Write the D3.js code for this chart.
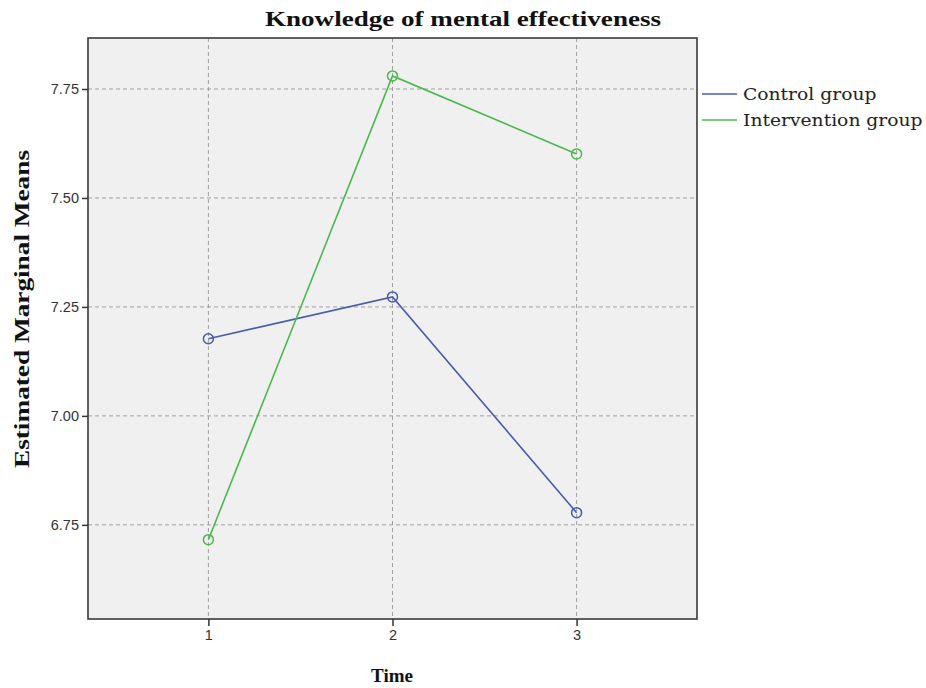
<!DOCTYPE html>
<html><head><meta charset="utf-8">
<script src="https://cdn.jsdelivr.net/npm/d3@7"></script>
<style>body{margin:0;background:#fff;} svg{display:block;}</style>
</head><body>
<svg id="chart" width="926" height="688"></svg>
<script>
const timePoints = [1, 2, 3];
const controlMeans = [7.177, 7.273, 6.778];
const interventionMeans = [6.716, 7.780, 7.601];
const seriesNames = ["Control group", "Intervention group"];
const yTickValues = [6.75, 7.00, 7.25, 7.50, 7.75];
const titleText = "Knowledge of mental effectiveness";
const xTitle = "Time";
const yTitle = "Estimated Marginal Means";

const colors = ["#4a5cae", "#4db84d"];
const svg = d3.select("#chart");
const L = 88, R = 697, T = 38, B = 619;

const x = d3.scaleLinear().domain([0.346, 3.654]).range([L, R]);
const y = d3.scaleLinear().domain([6.534, 7.867]).range([B, T]);

svg.append("rect").attr("x", L).attr("y", T).attr("width", R - L).attr("height", B - T)
  .attr("fill", "#f0f0f0");

// gridlines
svg.append("g").selectAll("line").data(yTickValues).join("line")
  .attr("x1", L).attr("x2", R).attr("y1", d => y(d)).attr("y2", d => y(d))
  .attr("stroke", "#a0a0a0").attr("stroke-dasharray", "4,3").attr("stroke-width", 1);
svg.append("g").selectAll("line").data(timePoints).join("line")
  .attr("y1", T).attr("y2", B).attr("x1", d => x(d)).attr("x2", d => x(d))
  .attr("stroke", "#a0a0a0").attr("stroke-dasharray", "4,3").attr("stroke-width", 1);

// axes
const yAxis = d3.axisLeft(y).tickValues(yTickValues).tickFormat(d3.format(".2f")).tickSize(6).tickPadding(3);
const gy = svg.append("g").attr("transform", `translate(${L},0)`).call(yAxis);
const xAxis = d3.axisBottom(x).tickValues(timePoints).tickFormat(d3.format("d")).tickSize(7).tickPadding(4);
const gx = svg.append("g").attr("transform", `translate(0,${B})`).call(xAxis);
[gx, gy].forEach(g => {
  g.select(".domain").remove();
  g.selectAll("line").attr("stroke", "#333").attr("stroke-width", 1.5);
  g.selectAll("text").attr("font-family", "Liberation Sans, Arial, sans-serif")
    .attr("font-size", 14.5).attr("fill", "#333");
});

// frame
svg.append("rect").attr("x", L).attr("y", T).attr("width", R - L).attr("height", B - T)
  .attr("fill", "none").attr("stroke", "#3a3a3a").attr("stroke-width", 1.6);

// series
const series = [controlMeans, interventionMeans];
const line = d3.line().x((d, i) => x(timePoints[i])).y(d => y(d));
series.forEach((vals, k) => {
  svg.append("path").datum(vals).attr("d", line).attr("fill", "none")
    .attr("stroke", colors[k]).attr("stroke-width", 1.6);
  svg.append("g").selectAll("circle").data(vals).join("circle")
    .attr("cx", (d, i) => x(timePoints[i])).attr("cy", d => y(d)).attr("r", 5)
    .attr("fill", "none").attr("stroke", colors[k]).attr("stroke-width", 1.5);
});

// title
svg.append("text").attr("x", 463).attr("y", 26).attr("text-anchor", "middle")
  .attr("font-family", "Liberation Serif, serif").attr("font-weight", "bold")
  .attr("font-size", 21).attr("fill", "#111")
  .attr("textLength", 396).attr("lengthAdjust", "spacingAndGlyphs").text(titleText);

svg.append("text").attr("x", 392).attr("y", 682).attr("text-anchor", "middle")
  .attr("font-family", "Liberation Serif, serif").attr("font-weight", "bold")
  .attr("font-size", 19).attr("fill", "#111").text(xTitle);

svg.append("text").attr("transform", "translate(29,309) rotate(-90)").attr("text-anchor", "middle")
  .attr("font-family", "Liberation Serif, serif").attr("font-weight", "bold")
  .attr("font-size", 20).attr("fill", "#111")
  .attr("textLength", 318).attr("lengthAdjust", "spacingAndGlyphs").text(yTitle);

// legend
const lg = svg.append("g");
seriesNames.forEach((name, i) => {
  const yy = 94 + i * 26;
  lg.append("line").attr("x1", 702).attr("x2", 737).attr("y1", yy).attr("y2", yy)
    .attr("stroke", colors[i]).attr("stroke-width", 1.6);
  const t = lg.append("text").attr("x", 743).attr("y", yy + 6)
    .attr("font-family", "DejaVu Serif, serif").attr("font-size", 17).attr("fill", "#222")
    .text(name);
  const w = t.node().getComputedTextLength();
  t.attr("textLength", w * 1.1).attr("lengthAdjust", "spacingAndGlyphs");
});
</script>
</body></html>
